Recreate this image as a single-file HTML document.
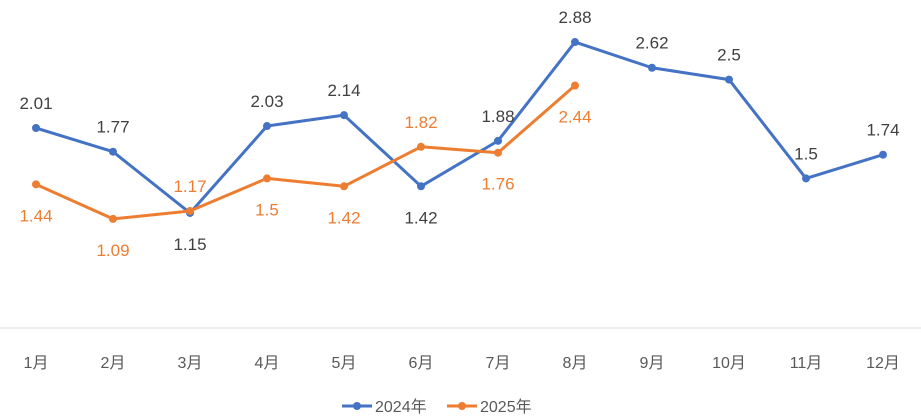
<!DOCTYPE html>
<html><head><meta charset="utf-8">
<style>
html,body{margin:0;padding:0;background:#fff;}
svg{display:block;font-family:"Liberation Sans","Noto Sans CJK SC",sans-serif;}
</style></head>
<body>
<svg id="chart" width="921" height="418" viewBox="0 0 921 418" xmlns="http://www.w3.org/2000/svg">
<line x1="0" y1="328" x2="921" y2="328" stroke="#d9d9d9" stroke-width="1"/>
<g id="xlabels"></g>
<g id="series"></g>
<g>
  <g>
    <line x1="342" y1="406" x2="372" y2="406" stroke="#4472C4" stroke-width="3"/>
    <circle cx="357" cy="406" r="4" fill="#4472C4"/>
    <text x="375" y="412" font-size="16" fill="#595959">2024年</text>
  </g>
  <g>
    <line x1="447" y1="406" x2="477" y2="406" stroke="#ED7D31" stroke-width="3"/>
    <circle cx="462" cy="406" r="4" fill="#ED7D31"/>
    <text x="480" y="412" font-size="16" fill="#595959">2025年</text>
  </g>
</g>
</svg>
<script>
const categories = ["1月","2月","3月","4月","5月","6月","7月","8月","9月","10月","11月","12月"];
const values2024 = [2.01,1.77,1.15,2.03,2.14,1.42,1.88,2.88,2.62,2.5,1.5,1.74];
const values2025 = [1.44,1.09,1.17,1.5,1.42,1.82,1.76,2.44];
const labelPos2024 = ["above","above","below","above","above","below","above","above","above","above","above","above"];
const labelPos2025 = ["below","below","above","below","below","above","below","below"];
const NS="http://www.w3.org/2000/svg";
function xScale(i){return 36+i*77;}
function yScale(v){return 326.6-v*98.8;}
const xl=document.getElementById('xlabels');
categories.forEach((c,i)=>{
  const t=document.createElementNS(NS,'text');
  
  
  t.setAttribute('x',xScale(i));t.setAttribute('y',368);
  t.setAttribute('text-anchor','middle');t.setAttribute('font-size','16');t.setAttribute('fill','#595959');
  t.textContent=c;xl.appendChild(t);
});
const sg=document.getElementById('series');
function drawSeries(vals,pos,color,labelColor,name){
  const g=document.createElementNS(NS,'g');
  
  
  const p=document.createElementNS(NS,'polyline');
  
  
  p.setAttribute('points',vals.map((v,i)=>xScale(i)+','+yScale(v)).join(' '));
  p.setAttribute('fill','none');p.setAttribute('stroke',color);p.setAttribute('stroke-width','3');p.setAttribute('stroke-linejoin','round');
  g.appendChild(p);
  vals.forEach((v,i)=>{
    const c=document.createElementNS(NS,'circle');
    
    
    c.setAttribute('cx',xScale(i));c.setAttribute('cy',yScale(v));c.setAttribute('r','4');c.setAttribute('fill',color);
    g.appendChild(c);
    const t=document.createElementNS(NS,'text');
    
    
    const y=pos[i]==='above'?yScale(v)-19:yScale(v)+37;
    t.setAttribute('x',xScale(i));t.setAttribute('y',y);
    t.setAttribute('text-anchor','middle');t.setAttribute('font-size','17');t.setAttribute('fill',labelColor);
    t.textContent=String(v);
    g.appendChild(t);
  });
  sg.appendChild(g);
}
drawSeries(values2024,labelPos2024,'#4472C4','#404040','2024');
drawSeries(values2025,labelPos2025,'#ED7D31','#ED7D31','2025');
</script>
</body></html>
